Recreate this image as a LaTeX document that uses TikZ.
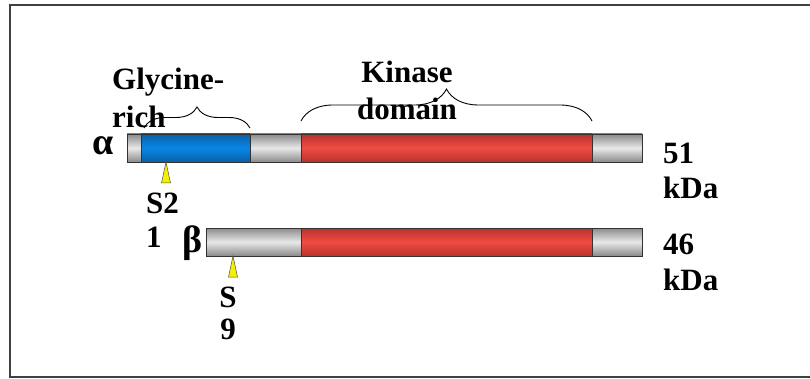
\documentclass[tikz,border=0pt]{standalone}
\usepackage{fontspec}
\setmainfont{Liberation Serif}
\usetikzlibrary{decorations.pathreplacing}
\definecolor{grayedge}{HTML}{8A8A8A}
\definecolor{graymid}{HTML}{E8E8E8}
\definecolor{blueedge}{HTML}{0A5FA8}
\definecolor{bluemid}{HTML}{0A86E6}
\definecolor{rededge}{HTML}{B8322C}
\definecolor{redmid}{HTML}{F04C42}
\definecolor{marker}{HTML}{F5F000}
\tikzset{
  seg/.style={draw=black!80, line width=0.9pt},
  grayseg/.style={seg, top color=grayedge, bottom color=grayedge, middle color=graymid},
  blueseg/.style={seg, top color=blueedge, bottom color=blueedge, middle color=bluemid},
  redseg/.style={seg, top color=rededge, bottom color=rededge, middle color=redmid},
  lbl/.style={font=\fontsize{31}{38}\selectfont\bfseries, inner sep=0pt, align=left},
  greek/.style={font=\fontsize{38}{44}\selectfont\bfseries, inner sep=0pt},
  site/.style={draw=black!70, fill=marker, line width=0.5pt},
  domainbrace/.style={decorate, decoration={brace, amplitude=#1, aspect=0.5}, line width=0.9pt}
}
\begin{document}
\begin{tikzpicture}[x=1pt, y=-1pt]
  \useasboundingbox (0,0) rectangle (810,379);
  % frame
  \draw[black!75, line width=1.6pt] (815,5) -- (10,5) -- (10,377) -- (815,377);

  % alpha isoform
  \path[grayseg] (127,134) rectangle (141,162);
  \path[blueseg] (141,134) rectangle (250,162);
  \path[grayseg] (250,134) rectangle (301,162);
  \path[redseg]  (301,134) rectangle (592,162);
  \path[grayseg] (592,134) rectangle (642,162);

  % beta isoform
  \path[grayseg] (206,228) rectangle (301,256);
  \path[redseg]  (301,228) rectangle (592,256);
  \path[grayseg] (592,228) rectangle (642,256);

  % phosphorylation sites
  \draw[site] (166,162) -- (170.5,183) -- (161.5,183) -- cycle;
  \draw[site] (233,256) -- (237.5,277) -- (228.5,277) -- cycle;

  % domain braces
  \draw[domainbrace=21pt] (144,128) -- (250,128);
  \draw[domainbrace=32pt] (301,121) -- (592,121);

  % labels
  \node[lbl, anchor=west] (glyc) at (112,82) {Glycine-};
  \node[lbl, anchor=west] (rich) at (112,117) {rich};
  \node[lbl] (kin) at (407,72) {Kinase};
  \node[lbl] (dom) at (407,109) {domain};
  \node[greek] (alpha) at (103,146) {α};
  \node[greek] (beta) at (193,243) {β};
  \node[lbl, anchor=west] (s21a) at (146,203) {S2};
  \node[lbl, anchor=west] (s21b) at (146,237) {1};
  \node[lbl] (s9a) at (228,297) {S};
  \node[lbl] (s9b) at (228,329) {9};
  \node[lbl, anchor=west] (m51) at (663,153) {51};
  \node[lbl, anchor=west] (k51) at (663,188) {kDa};
  \node[lbl, anchor=west] (m46) at (663,244) {46};
  \node[lbl, anchor=west] (k46) at (663,280) {kDa};
\end{tikzpicture}
\end{document}
